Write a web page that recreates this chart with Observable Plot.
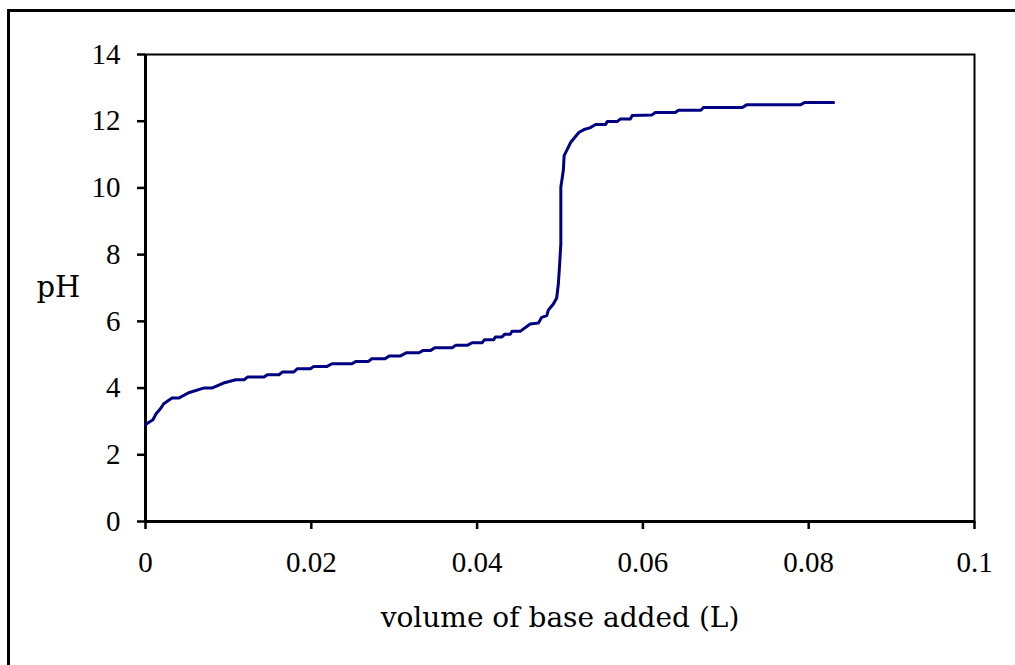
<!DOCTYPE html>
<html><head><meta charset="utf-8">
<script src="https://cdn.jsdelivr.net/npm/d3@7"></script>
<script src="https://cdn.jsdelivr.net/npm/@observablehq/plot@0.6"></script>
<style>
html,body{margin:0;padding:0;background:#fff;overflow:hidden;}
#wrap{position:relative;width:1015px;height:665px;}
#wrap svg{display:block;}
#border{position:absolute;left:7px;top:9px;width:1100px;height:800px;border:3px solid #000;box-sizing:border-box;pointer-events:none;}
</style></head><body><div id="wrap"><div id="border"></div></div>
<script>
const volume = [0, 0.0009, 0.0013, 0.0018, 0.0022, 0.0032, 0.0040, 0.0052, 0.0070, 0.0080,
  0.0094, 0.0109, 0.0119, 0.0123, 0.0143, 0.0147, 0.0161, 0.0165, 0.0179, 0.0183,
  0.0199, 0.0203, 0.0219, 0.0225, 0.0249, 0.0254, 0.0269, 0.0273, 0.0289, 0.0294,
  0.0307, 0.0315, 0.0330, 0.0335, 0.0344, 0.0349, 0.0370, 0.0374, 0.0388, 0.0394,
  0.0406, 0.0409, 0.0420, 0.0422, 0.0430, 0.0433, 0.0440, 0.0442, 0.0452, 0.0464,
  0.0474, 0.0478, 0.0484, 0.0486, 0.0492, 0.0496, 0.0498, 0.04996, 0.0501, 0.0501,
  0.0504, 0.0505, 0.0508, 0.0513, 0.0523, 0.0529, 0.0536, 0.0543, 0.0555, 0.0557,
  0.0569, 0.0573, 0.0585, 0.0587, 0.0611, 0.0615, 0.0639, 0.0643, 0.0670, 0.0673,
  0.0720, 0.0725, 0.0790, 0.0795, 0.0830];
const pH = [2.91, 3.05, 3.24, 3.38, 3.53, 3.70, 3.70, 3.86, 4.00, 4.00,
  4.15, 4.25, 4.25, 4.33, 4.33, 4.40, 4.40, 4.48, 4.48, 4.58,
  4.58, 4.65, 4.65, 4.73, 4.73, 4.80, 4.80, 4.88, 4.88, 4.96,
  4.96, 5.06, 5.06, 5.13, 5.13, 5.21, 5.21, 5.28, 5.28, 5.36,
  5.36, 5.45, 5.45, 5.53, 5.53, 5.61, 5.61, 5.70, 5.70, 5.92,
  5.95, 6.12, 6.17, 6.34, 6.52, 6.70, 7.12, 7.72, 8.32, 10.02,
  10.52, 10.97, 11.12, 11.37, 11.67, 11.75, 11.80, 11.90, 11.90, 11.99,
  11.99, 12.07, 12.07, 12.17, 12.19, 12.26, 12.26, 12.33, 12.33, 12.41,
  12.41, 12.49, 12.49, 12.56, 12.56];
const xTicks = [0, 0.02, 0.04, 0.06, 0.08, 0.1];
const xTickLabels = ["0", "0.02", "0.04", "0.06", "0.08", "0.1"];
const yTicks = [0, 2, 4, 6, 8, 10, 12, 14];
const xLabel = "volume of base added (L)";
const yLabel = "pH";

const data = volume.map((v, i) => ({v, pH: pH[i]}));
const tickFont = "Liberation Serif";

const chart = Plot.plot({
  width: 1015, height: 665,
  marginLeft: 145, marginRight: 41, marginTop: 54, marginBottom: 144,
  x: {domain: [0, 0.1]},
  y: {domain: [0, 14]},
  style: {background: "transparent", fontFamily: "Liberation Serif", fontSize: "29px", color: "#000"},
  marks: [
    Plot.frame({stroke: "#000", strokeWidth: 2}),
    Plot.ruleX([0], {stroke: "#000", strokeWidth: 3}),
    Plot.ruleY([0], {stroke: "#000", strokeWidth: 3}),
    Plot.line(data, {x: "v", y: "pH", stroke: "#000080", strokeWidth: 3}),
    Plot.axisX({ticks: xTicks, tickSize: 8, tickPadding: 22, fontSize: 29, fontFamily: tickFont,
      tickFormat: (d) => xTickLabels[xTicks.indexOf(d)], stroke: "#000", strokeWidth: 2.5,
      fill: "#000", label: null}),
    Plot.axisY({ticks: yTicks, tickSize: 8, tickPadding: 17, fontSize: 29, fontFamily: tickFont,
      stroke: "#000", strokeWidth: 2.5, fill: "#000", label: null}),
    Plot.text([xLabel], {frameAnchor: "bottom", dy: 105, text: d => d, fontSize: 28,
      fontFamily: "DejaVu Serif", fill: "#000"}),
    Plot.text([yLabel], {frameAnchor: "left", dx: -109, textAnchor: "start", text: d => d, fontSize: 29,
      fontFamily: "DejaVu Serif", fill: "#000"})
  ]
});
document.getElementById("wrap").insertBefore(chart, document.getElementById("border"));
</script>
</body></html>
